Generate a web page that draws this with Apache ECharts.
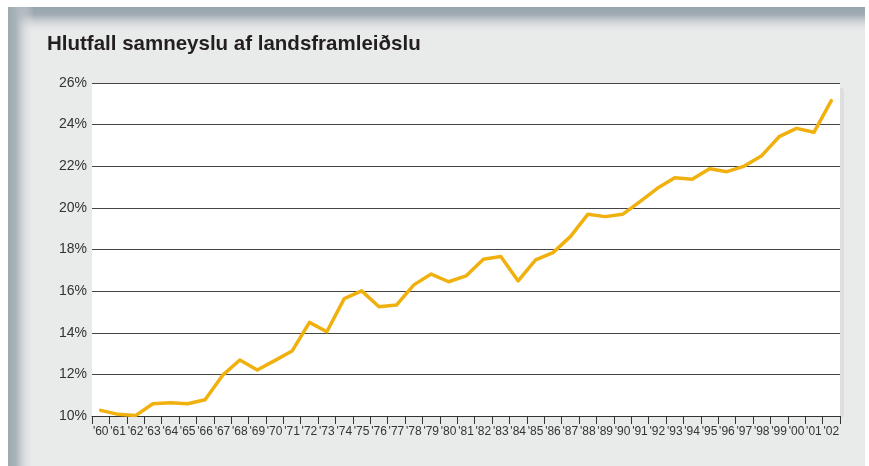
<!DOCTYPE html>
<html>
<head>
<meta charset="utf-8">
<script src="https://cdn.jsdelivr.net/npm/echarts@6/dist/echarts.min.js"></script>
<style>
  html, body { margin: 0; padding: 0; background: #fff; }
  #chart { width: 869px; height: 466px; }
</style>
</head>
<body>
<div id="chart"></div>
<script>
// ár ('60 - '02)
const years = ["'60","'61","'62","'63","'64","'65","'66","'67","'68","'69",
  "'70","'71","'72","'73","'74","'75","'76","'77","'78","'79",
  "'80","'81","'82","'83","'84","'85","'86","'87","'88","'89",
  "'90","'91","'92","'93","'94","'95","'96","'97","'98","'99",
  "'00","'01","'02"];

// hlutfall samneyslu af VLF, %
const shares = [10.27, 10.08, 10.02, 10.59, 10.64, 10.59, 10.78, 11.95, 12.69, 12.21,
  12.66, 13.12, 14.50, 14.05, 15.64, 16.01, 15.25, 15.33, 16.30, 16.82,
  16.45, 16.73, 17.53, 17.66, 16.49, 17.50, 17.85, 18.62, 19.69, 19.58,
  19.69, 20.30, 20.94, 21.45, 21.37, 21.88, 21.74, 22.01, 22.51, 23.42,
  23.82, 23.63, 25.15];

const yTicks = { min: 10, max: 26, step: 2 };

const chart = echarts.init(document.getElementById('chart'));

chart.setOption({
  backgroundColor: '#fff',
  animation: false,
  title: {
    text: 'Hlutfall samneyslu af landsframleiðslu',
    left: 42,
    top: 29,
    textStyle: {
      fontFamily: 'Liberation Sans, Arial, sans-serif',
      fontSize: 20.5,
      fontWeight: 'bold',
      color: '#231f20'
    }
  },
  // rammi og skuggar
  graphic: [
    { type: 'rect', z: -1, shape: { x: 8, y: 7, width: 857, height: 459 },
      style: { fill: '#e9eaea' } },
    { type: 'rect', z: -1, shape: { x: 8, y: 7, width: 857, height: 26 },
      style: { fill: new echarts.graphic.LinearGradient(0, 0, 0, 1, [
        { offset: 0, color: '#97a4ad' },
        { offset: 0.3, color: '#a1acb3' },
        { offset: 1, color: 'rgba(233,234,234,0)' }
      ]) } },
    { type: 'rect', z: -1, shape: { x: 8, y: 7, width: 26, height: 459 },
      style: { fill: new echarts.graphic.LinearGradient(0, 0, 1, 0, [
        { offset: 0, color: '#9ca9b1' },
        { offset: 0.3, color: '#a9b3b9' },
        { offset: 1, color: 'rgba(233,234,234,0)' }
      ]) } },
    { type: 'rect', z: -1, shape: { x: 840, y: 88, width: 4, height: 330, r: [0, 3, 3, 0] },
      style: { fill: '#dcdee0' } }
  ],
  grid: {
    left: 92,
    right: 29,
    top: 83,
    bottom: 50,
    show: true,
    backgroundColor: '#fff',
    borderWidth: 0
  },
  xAxis: {
    type: 'category',
    data: years,
    boundaryGap: true,
    axisLine: { lineStyle: { color: '#333', width: 1 } },
    axisTick: { show: true, length: 8, lineStyle: { color: '#333' } },
    axisLabel: {
      interval: 0,
      margin: 10,
      fontFamily: 'Liberation Sans Narrow, Arial Narrow, sans-serif',
      fontSize: 12,
      color: '#333'
    }
  },
  yAxis: {
    type: 'value',
    min: yTicks.min,
    max: yTicks.max,
    interval: yTicks.step,
    axisLine: { show: false },
    axisTick: { show: false },
    axisLabel: {
      formatter: '{value}%',
      margin: 5,
      fontFamily: 'Liberation Sans, Arial, sans-serif',
      fontSize: 14,
      color: '#333'
    },
    splitLine: { lineStyle: { color: '#444', width: 1 } }
  },
  series: [{
    type: 'line',
    data: shares,
    symbol: 'none',
    lineStyle: { color: '#f0b10f', width: 3.5, cap: 'round', join: 'round' }
  }]
});
</script>
</body>
</html>
